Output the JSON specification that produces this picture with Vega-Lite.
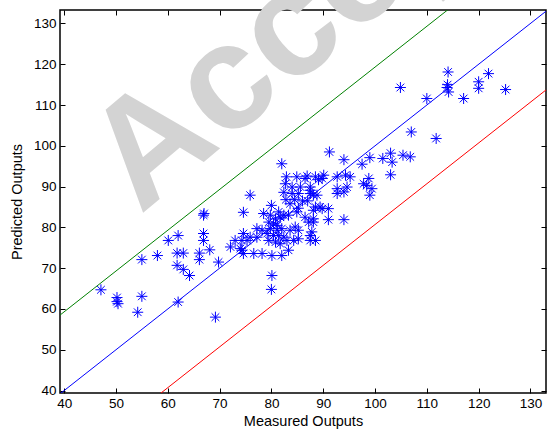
{
  "$schema": "https://vega.github.io/schema/vega-lite/v6.json",
  "width": 486,
  "height": 383,
  "autosize": {"type": "none"},
  "padding": {"left": 60, "top": 10, "right": 1, "bottom": 42},
  "background": "white",
  "config": {
    "view": {"stroke": "#000", "strokeWidth": 1.5},
    "axis": {
      "labelFont": "Liberation Sans",
      "titleFont": "Liberation Sans",
      "labelFontSize": 13.5,
      "titleFontSize": 14.5,
      "titleFontWeight": "normal",
      "labelColor": "#000",
      "titleColor": "#000",
      "domain": false,
      "grid": false,
      "tickColor": "#000",
      "tickSize": -5,
      "zindex": 1
    }
  },
  "datasets": {
    "points": [
      {"x": 47.1, "y": 64.7}, {"x": 50.2, "y": 62.8}, {"x": 50.2, "y": 61.8}, {"x": 50.4, "y": 61.3},
      {"x": 55.0, "y": 63.1}, {"x": 54.2, "y": 59.2}, {"x": 62.0, "y": 61.7}, {"x": 69.2, "y": 58.0},
      {"x": 55.0, "y": 72.1}, {"x": 58.0, "y": 73.1}, {"x": 60.1, "y": 76.8}, {"x": 62.0, "y": 78.0},
      {"x": 61.8, "y": 73.7}, {"x": 63.0, "y": 73.7}, {"x": 61.8, "y": 70.7}, {"x": 63.0, "y": 69.7},
      {"x": 64.2, "y": 68.2}, {"x": 66.1, "y": 73.7}, {"x": 66.1, "y": 72.1}, {"x": 68.1, "y": 74.5},
      {"x": 66.9, "y": 78.5}, {"x": 66.9, "y": 76.8}, {"x": 67.0, "y": 83.4}, {"x": 66.9, "y": 83.0},
      {"x": 69.8, "y": 71.5}, {"x": 72.1, "y": 75.2}, {"x": 74.0, "y": 74.8}, {"x": 73.0, "y": 76.8},
      {"x": 74.3, "y": 76.8}, {"x": 75.3, "y": 76.8}, {"x": 74.3, "y": 74.4}, {"x": 74.6, "y": 73.6},
      {"x": 76.6, "y": 73.6}, {"x": 78.2, "y": 73.6}, {"x": 74.6, "y": 78.5}, {"x": 75.9, "y": 77.6},
      {"x": 77.2, "y": 77.6}, {"x": 77.2, "y": 79.7}, {"x": 78.2, "y": 79.3}, {"x": 74.6, "y": 83.7},
      {"x": 75.9, "y": 87.9}, {"x": 80.1, "y": 68.2}, {"x": 80.0, "y": 64.8}, {"x": 80.1, "y": 73.1},
      {"x": 82.0, "y": 73.1}, {"x": 83.3, "y": 74.4}, {"x": 79.5, "y": 76.8}, {"x": 80.8, "y": 76.4},
      {"x": 81.7, "y": 76.0}, {"x": 83.0, "y": 76.8}, {"x": 84.3, "y": 76.8}, {"x": 85.2, "y": 77.2},
      {"x": 79.8, "y": 79.7}, {"x": 81.1, "y": 79.3}, {"x": 82.0, "y": 79.7}, {"x": 79.2, "y": 78.5},
      {"x": 80.4, "y": 78.0}, {"x": 81.4, "y": 78.0}, {"x": 82.4, "y": 77.6}, {"x": 83.6, "y": 79.3},
      {"x": 85.2, "y": 79.3}, {"x": 84.6, "y": 80.1}, {"x": 79.5, "y": 81.3}, {"x": 80.4, "y": 80.9},
      {"x": 81.1, "y": 80.5}, {"x": 79.8, "y": 83.0}, {"x": 80.8, "y": 82.1}, {"x": 81.7, "y": 82.5},
      {"x": 81.4, "y": 83.8}, {"x": 82.4, "y": 83.0}, {"x": 83.3, "y": 83.0}, {"x": 85.2, "y": 84.7},
      {"x": 84.9, "y": 83.8}, {"x": 86.5, "y": 82.5}, {"x": 87.2, "y": 81.3}, {"x": 80.0, "y": 85.4},
      {"x": 78.5, "y": 83.4}, {"x": 83.6, "y": 85.8}, {"x": 82.4, "y": 88.6}, {"x": 84.0, "y": 88.3},
      {"x": 85.2, "y": 88.3}, {"x": 87.5, "y": 88.3}, {"x": 88.8, "y": 87.9}, {"x": 82.7, "y": 90.7},
      {"x": 85.6, "y": 89.9}, {"x": 87.5, "y": 89.9}, {"x": 82.9, "y": 92.4}, {"x": 84.9, "y": 92.4},
      {"x": 86.9, "y": 92.6}, {"x": 88.5, "y": 92.4}, {"x": 82.0, "y": 95.6}, {"x": 84.0, "y": 89.9},
      {"x": 86.5, "y": 92.0}, {"x": 87.5, "y": 89.1}, {"x": 86.0, "y": 86.5}, {"x": 84.5, "y": 86.8},
      {"x": 82.8, "y": 86.8}, {"x": 87.0, "y": 86.5}, {"x": 87.5, "y": 76.8}, {"x": 88.5, "y": 76.8},
      {"x": 87.8, "y": 78.9}, {"x": 87.5, "y": 78.0}, {"x": 88.1, "y": 81.3}, {"x": 88.1, "y": 82.1},
      {"x": 88.1, "y": 84.2}, {"x": 89.8, "y": 84.6}, {"x": 91.0, "y": 84.6}, {"x": 88.5, "y": 85.0},
      {"x": 89.4, "y": 85.0}, {"x": 91.0, "y": 81.9}, {"x": 94.0, "y": 81.9}, {"x": 88.1, "y": 87.9},
      {"x": 89.1, "y": 91.7}, {"x": 90.1, "y": 92.8}, {"x": 89.8, "y": 92.0}, {"x": 92.7, "y": 92.4},
      {"x": 94.3, "y": 92.8}, {"x": 95.2, "y": 92.4}, {"x": 92.7, "y": 89.5}, {"x": 92.7, "y": 88.3},
      {"x": 94.0, "y": 88.7}, {"x": 94.6, "y": 89.9}, {"x": 91.2, "y": 98.5}, {"x": 94.0, "y": 96.6},
      {"x": 97.5, "y": 95.5}, {"x": 99.0, "y": 97.1}, {"x": 101.5, "y": 96.9}, {"x": 103.0, "y": 98.2},
      {"x": 103.3, "y": 96.0}, {"x": 105.4, "y": 97.7}, {"x": 106.8, "y": 97.3}, {"x": 103.0, "y": 92.9},
      {"x": 98.8, "y": 92.0}, {"x": 97.8, "y": 90.7}, {"x": 99.4, "y": 89.5}, {"x": 99.0, "y": 87.9},
      {"x": 98.4, "y": 90.3}, {"x": 104.9, "y": 114.3}, {"x": 110.0, "y": 111.6}, {"x": 114.1, "y": 118.1},
      {"x": 113.9, "y": 114.3}, {"x": 114.2, "y": 113.2}, {"x": 114.0, "y": 115.0}, {"x": 117.1, "y": 111.6},
      {"x": 120.0, "y": 115.7}, {"x": 120.0, "y": 114.1}, {"x": 121.9, "y": 117.7}, {"x": 125.2, "y": 113.8},
      {"x": 107.0, "y": 103.4}, {"x": 111.8, "y": 101.8}
    ],
    "lines": [
      {"x": 20, "y": 20, "line": "y=x"}, {"x": 150, "y": 150, "line": "y=x"},
      {"x": 20, "y": 39.3, "line": "upper"}, {"x": 150, "y": 169.3, "line": "upper"},
      {"x": 20, "y": 0.7, "line": "lower"}, {"x": 150, "y": 130.7, "line": "lower"}
    ],
    "mark": [{"label": "Accepted"}]
  },
  "layer": [
    {
      "data": {"name": "mark"},
      "mark": {"type": "text", "angle": 320, "fontSize": 150, "fontWeight": "bold", "font": "Liberation Sans", "color": "#d3d3d3", "align": "left", "baseline": "alphabetic"},
      "encoding": {
        "x": {"datum": 54.7, "type": "quantitative", "scale": {"domain": [39.2, 133.0], "nice": false, "zero": false},
              "axis": {"orient": "top", "labels": false, "title": null, "values": [40, 50, 60, 70, 80, 90, 100, 110, 120, 130]}},
        "y": {"datum": 83.0, "type": "quantitative", "scale": {"domain": [39.4, 133.3], "nice": false, "zero": false},
              "axis": {"orient": "right", "labels": false, "title": null, "values": [40, 50, 60, 70, 80, 90, 100, 110, 120, 130]}},
        "text": {"field": "label"}
      }
    },
    {
      "data": {"name": "lines"},
      "mark": {"type": "line", "clip": true, "strokeWidth": 1},
      "encoding": {
        "x": {"field": "x", "type": "quantitative",
              "axis": {"orient": "bottom", "title": "Measured Outputs", "values": [40, 50, 60, 70, 80, 90, 100, 110, 120, 130], "labelPadding": 8, "titlePadding": 5}},
        "y": {"field": "y", "type": "quantitative",
              "axis": {"orient": "left", "title": "Predicted Outputs", "values": [40, 50, 60, 70, 80, 90, 100, 110, 120, 130], "labelPadding": 9, "titlePadding": 9}},
        "color": {"field": "line", "type": "nominal", "scale": {"domain": ["y=x", "upper", "lower"], "range": ["#0000ff", "#008000", "#ff0000"]}, "legend": null},
        "detail": {"field": "line"}
      }
    },
    {
      "data": {"name": "points"},
      "mark": {"type": "point", "shape": "M-1,0L1,0M0,-1L0,1M-0.7,-0.7L0.7,0.7M-0.7,0.7L0.7,-0.7", "filled": false, "stroke": "#0000ff", "strokeWidth": 1, "size": 121, "opacity": 1},
      "encoding": {
        "x": {"field": "x", "type": "quantitative", "axis": null},
        "y": {"field": "y", "type": "quantitative", "axis": null}
      }
    }
  ],
  "resolve": {"axis": {"x": "independent", "y": "independent"}}
}
